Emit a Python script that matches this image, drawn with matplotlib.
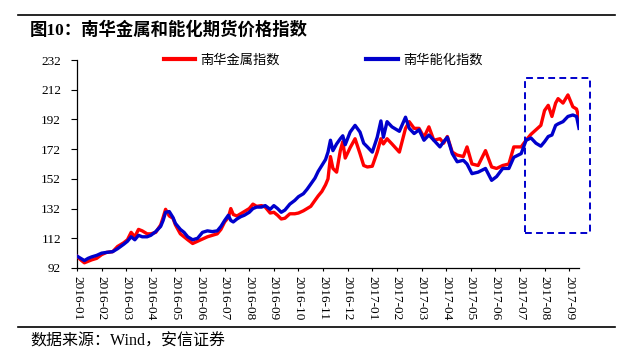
import matplotlib
matplotlib.use("Agg")
import matplotlib.pyplot as plt
from matplotlib.patches import Rectangle
from matplotlib.lines import Line2D

# ---- data (x in months since 2016-01) ----
month_pos = [0.00, 0.15, 0.30, 0.45, 0.60, 0.80, 1.00, 1.20, 1.45, 1.65, 1.90, 2.05, 2.20, 2.35,
             2.50, 2.65, 2.85, 3.00, 3.20, 3.40, 3.50, 3.60, 3.75, 3.90, 4.00, 4.20, 4.35, 4.50,
             4.70, 4.90, 5.10, 5.30, 5.50, 5.70, 5.85, 6.00, 6.15, 6.25, 6.35, 6.50, 6.65, 6.80,
             7.00, 7.15, 7.30, 7.50, 7.65, 7.85, 8.00, 8.15, 8.30, 8.45, 8.65, 8.85, 9.00, 9.20,
             9.35, 9.50, 9.67, 9.80, 9.95, 10.10, 10.20, 10.30, 10.40, 10.55, 10.70, 10.80, 10.90,
             11.10, 11.30, 11.50, 11.65, 11.80, 12.00, 12.20, 12.35, 12.45, 12.60, 12.80, 13.10,
             13.35, 13.50, 13.70, 13.90, 14.10, 14.30, 14.50, 14.75, 14.90, 15.05, 15.25, 15.45,
             15.70, 15.85, 16.05, 16.30, 16.60, 16.85, 17.05, 17.30, 17.55, 17.75, 18.05, 18.25,
             18.45, 18.65, 18.85, 19.00, 19.15, 19.30, 19.45, 19.55, 19.75, 19.95, 20.15, 20.30,
             20.40]

energy_chem = [100, 98.5, 97, 98.5, 99.5, 100.5, 102, 102.5, 103, 105, 108, 110, 113, 111,
               114, 113, 113, 114, 116.5, 120, 124, 129.5, 130, 126, 122, 118, 116, 113,
               111, 112, 116, 117, 116.5, 117, 120, 124, 127.5, 124, 123, 125, 126.5, 127.5,
               129.5, 132, 133, 133, 134, 131.5, 134, 132, 129.5, 131, 135, 137.5, 140, 142,
               145, 148.5, 152.5, 157, 161, 165, 170, 178, 171, 175.5, 179, 181, 175,
               183.5, 188, 183.5, 176, 173.5, 170, 180, 191, 180, 190.5, 187, 184,
               193.5, 186, 182.5, 185, 178, 181.5, 178, 173.5, 177, 180, 169, 163.5,
               164.5, 162, 155.5, 156.5, 159, 151, 153.5, 159, 159, 166.5, 169, 178,
               179.5, 176, 174, 177, 180.5, 181.5, 188, 189, 190.5, 194, 195, 194,
               186]

metals = [100, 97.5, 95.5, 96.5, 97.5, 98.5, 101, 102.5, 103, 106.5, 109, 111, 116, 113,
          118, 117, 115, 115, 116, 121, 126, 131.5, 127, 125.5, 121, 115, 113, 111,
          108.5, 110, 111.5, 113, 114, 115, 118, 123, 126, 132, 128, 127, 128.5, 130,
          132, 135, 133.5, 134, 133, 129, 129.5, 127.5, 125, 125.5, 128.5, 128.5, 129, 130.5,
          132, 133.5, 137.5, 140.5, 143.5, 148, 152, 167, 159, 156.5, 171, 177, 166,
          173, 179, 169, 161, 160, 160.5, 170, 179, 175.5, 179, 175.5, 170,
          186, 190.5, 186, 186, 180, 187, 178, 179, 176, 180.5, 170, 168,
          167, 173.5, 162, 161, 171, 160, 159, 161, 162, 173.5, 173.5, 178,
          182, 185, 188, 198, 201.5, 194, 203, 206, 203, 208.5, 200.5, 199,
          193]

month_labels = ["2016-01", "2016-02", "2016-03", "2016-04", "2016-05", "2016-06", "2016-07",
                "2016-08", "2016-09", "2016-10", "2016-11", "2016-12", "2017-01", "2017-02",
                "2017-03", "2017-04", "2017-05", "2017-06", "2017-07", "2017-08", "2017-09"]
y_ticks = [92, 112, 132, 152, 172, 192, 212, 232]
series_names = ["南华金属指数", "南华能化指数"]
title_text = "图10：南华金属和能化期货价格指数"
source_text = "数据来源：Wind，安信证券"

# highlight box (months, index values)
box_x0, box_x1 = 18.2, 20.85
box_y0, box_y1 = 115.8, 219.9

RED = "#FF0000"
BLUE = "#0000CC"
serif_cjk = ["Liberation Serif", "Noto Sans CJK SC"]

fig = plt.figure(figsize=(6.29, 3.64), dpi=100)
ax = fig.add_axes([77 / 629, 1 - 268 / 364, (579 - 77) / 629, (268 - 60) / 364])

ax.plot(month_pos, metals, color=RED, lw=2.4, solid_joinstyle="round", zorder=3)
ax.plot(month_pos, energy_chem, color=BLUE, lw=2.4, solid_joinstyle="round", zorder=4)

ax.set_xlim(0, 20.4)
ax.set_ylim(92, 232)
ax.set_yticks(y_ticks)
ax.set_yticklabels([str(v) for v in y_ticks], family="Liberation Serif", fontsize=9.5)
ax.set_xticks(range(len(month_labels)))
ax.set_xticklabels(month_labels, rotation=270, family="Liberation Serif", fontsize=9.5)
ax.tick_params(axis="y", direction="out", length=4, width=0.8, pad=7.5, colors="black")
ax.tick_params(axis="x", direction="out", length=2.5, width=0.8, pad=3, colors="black")
for s in ["top", "right"]:
    ax.spines[s].set_visible(False)
for s in ["left", "bottom"]:
    ax.spines[s].set_linewidth(0.9)

rect = Rectangle((box_x0, box_y0), box_x1 - box_x0, box_y1 - box_y0, fill=False,
                 edgecolor=BLUE, lw=1.4, linestyle=(0, (3.5, 2.2)), clip_on=False, zorder=5)
ax.add_patch(rect)

handles = [Line2D([], [], color=RED, lw=3), Line2D([], [], color=BLUE, lw=3)]
fig.legend(handles, series_names, loc="center", bbox_to_anchor=(323 / 629, 1 - 60 / 364),
           ncol=2, frameon=False, handlelength=2.4, handletextpad=0.4, columnspacing=6.5,
           prop={"family": "Noto Sans CJK SC", "size": 9.5})

fig.text(30 / 629, 1 - 30 / 364, title_text, family=serif_cjk, fontsize=12.5,
         fontweight="bold", ha="left", va="center")
fig.text(30 / 629, 1 - 342 / 364, source_text, family=serif_cjk, fontsize=11.5,
         ha="left", va="center")

fig.add_artist(Line2D([18 / 629, 615 / 629], [1 - 15 / 364, 1 - 15 / 364],
                      color="black", lw=1.2, transform=fig.transFigure))
fig.add_artist(Line2D([18 / 629, 615 / 629], [1 - 327 / 364, 1 - 327 / 364],
                      color="black", lw=1.2, transform=fig.transFigure))

fig.savefig("out.png", dpi=100)
